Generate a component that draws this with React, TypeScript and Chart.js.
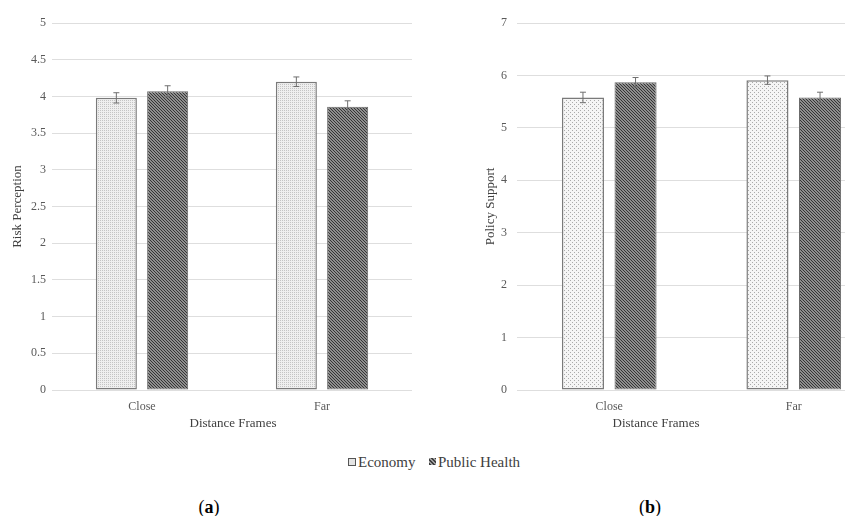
import React, { useEffect, useRef } from "react";
import { Chart, registerables } from "chart.js";

Chart.register(...registerables);

// ---- data ----
const categories = ["Close", "Far"];
const seriesNames = ["Economy", "Public Health"];

const riskEconomy = [3.98, 4.2];
const riskHealth = [4.07, 3.86];
const riskEconomyErr = [0.07, 0.065];
const riskHealthErr = [0.075, 0.08];

const policyEconomy = [5.58, 5.91];
const policyHealth = [5.87, 5.58];
const policyEconomyErr = [0.1, 0.08];
const policyHealthErr = [0.09, 0.1];

const xTitle = "Distance Frames";
const riskTitle = "Risk Perception";
const policyTitle = "Policy Support";
const captions = ["a", "b"];

const FONT = "'Liberation Serif', 'Times New Roman', serif";

function makePattern(kind: string): CanvasPattern | string {
  const c = document.createElement("canvas");
  const ctx = c.getContext("2d");
  if (!ctx) return "#ccc";
  if (kind === "denseDots") {
    c.width = 2; c.height = 2;
    ctx.fillStyle = "#efefef"; ctx.fillRect(0, 0, 2, 2);
    ctx.fillStyle = "#c4c4c4"; ctx.fillRect(0, 0, 1, 1);
  } else if (kind === "sparseDots") {
    c.width = 4; c.height = 4;
    ctx.fillStyle = "#f5f5f5"; ctx.fillRect(0, 0, 4, 4);
    ctx.fillStyle = "#aaaaaa";
    ctx.fillRect(0, 0, 1, 1);
    ctx.fillRect(2, 2, 1, 1);
  } else {
    c.width = 3; c.height = 3;
    ctx.fillStyle = "#8e8e8e"; ctx.fillRect(0, 0, 3, 3);
    ctx.fillStyle = "#353535";
    for (let i = 0; i < 3; i++) {
      ctx.fillRect(i, i, 1, 1);
    }
  }
  return ctx.createPattern(c, "repeat") || "#ccc";
}

const errorBarPlugin = {
  id: "errorBars",
  afterDatasetsDraw(chart: any) {
    const ctx = chart.ctx;
    const yScale = chart.scales.y;
    chart.data.datasets.forEach((ds: any, di: number) => {
      const meta = chart.getDatasetMeta(di);
      const errs: number[] = ds.errors || [];
      meta.data.forEach((bar: any, i: number) => {
        const v = ds.data[i];
        const e = errs[i];
        if (e == null) return;
        const yt = yScale.getPixelForValue(v + e);
        const yb = yScale.getPixelForValue(v - e);
        const x = bar.x;
        ctx.save();
        ctx.strokeStyle = "#6f6f6f";
        ctx.lineWidth = 1;
        ctx.beginPath();
        ctx.moveTo(x, yt); ctx.lineTo(x, yb);
        ctx.moveTo(x - 3, yt); ctx.lineTo(x + 3, yt);
        ctx.moveTo(x - 3, yb); ctx.lineTo(x + 3, yb);
        ctx.stroke();
        ctx.restore();
      });
    });
  },
};

type PanelProps = {
  left: number;
  width: number;
  econ: number[];
  health: number[];
  econErr: number[];
  healthErr: number[];
  max: number;
  step: number;
  title: string;
  yWidth: number;
  titlePad: number;
  tickPad: number;
  padRight: number;
  econPattern: string;
};

function Panel(p: PanelProps) {
  const ref = useRef<HTMLCanvasElement>(null);
  useEffect(() => {
    if (!ref.current) return;
    const chart = new Chart(ref.current, {
      type: "bar",
      data: {
        labels: categories,
        datasets: [
          {
            label: seriesNames[0],
            data: p.econ,
            errors: p.econErr,
            backgroundColor: makePattern(p.econPattern),
            borderColor: "#7a7a7a",
            borderWidth: 1.5,
            borderSkipped: false,
            categoryPercentage: 0.57,
            barPercentage: 0.8,
          } as any,
          {
            label: seriesNames[1],
            data: p.health,
            errors: p.healthErr,
            backgroundColor: makePattern("hatch"),
            borderColor: "#6a6a6a",
            borderWidth: 1,
            borderSkipped: false,
            categoryPercentage: 0.57,
            barPercentage: 0.8,
          } as any,
        ],
      },
      options: {
        responsive: false,
        maintainAspectRatio: false,
        animation: false,
        devicePixelRatio: 1,
        layout: { padding: { top: 23, left: 0, right: p.padRight, bottom: 0 } },
        plugins: { legend: { display: false }, tooltip: { enabled: false } },
        scales: {
          x: {
            grid: { display: false },
            border: { display: false },
            ticks: { color: "#595959", font: { family: FONT, size: 12 }, padding: 2 },
            afterFit: (s: any) => { s.height = 30; },
          },
          y: {
            min: 0,
            max: p.max,
            ticks: {
              stepSize: p.step,
              color: "#595959",
              font: { family: FONT, size: 12 },
              padding: p.tickPad,
              callback: (v: any) => String(Math.round(Number(v) * 10) / 10),
            },
            grid: { color: "#dedede", lineWidth: 1, drawTicks: false },
            border: { display: false },
            title: {
              display: true,
              text: p.title,
              color: "#404040",
              font: { family: FONT, size: 13 },
              padding: { top: p.titlePad, bottom: 0 },
            },
            afterFit: (s: any) => { s.width = p.yWidth; },
          },
        },
      } as any,
      plugins: [errorBarPlugin],
    });
    return () => chart.destroy();
  }, []);
  return (
    <canvas
      ref={ref}
      width={p.width}
      height={420}
      style={{ position: "absolute", left: p.left, top: 0, width: p.width, height: 420 }}
    />
  );
}

const textStyle = (x: number, y: number, size: number, color: string): React.CSSProperties => ({
  position: "absolute",
  left: x,
  top: y,
  transform: "translate(-50%, -50%)",
  fontFamily: FONT,
  fontSize: size,
  color,
  whiteSpace: "nowrap",
  lineHeight: 1,
});

export default function App() {
  return (
    <div
      style={{
        position: "fixed",
        left: 0,
        top: 0,
        width: 845,
        height: 516,
        overflow: "hidden",
        background: "#ffffff",
        fontFamily: FONT,
      }}
    >
      <Panel
        left={0}
        width={420}
        econ={riskEconomy}
        health={riskHealth}
        econErr={riskEconomyErr}
        healthErr={riskHealthErr}
        max={5}
        step={0.5}
        title={riskTitle}
        yWidth={52}
        titlePad={10}
        tickPad={6}
        padRight={8}
        econPattern="denseDots"
      />
      <Panel
        left={470}
        width={420}
        econ={policyEconomy}
        health={policyHealth}
        econErr={policyEconomyErr}
        healthErr={policyHealthErr}
        max={7}
        step={1}
        title={policyTitle}
        yWidth={47}
        titlePad={13}
        tickPad={10}
        padRight={4}
        econPattern="sparseDots"
      />
      <div style={textStyle(233, 422, 13, "#404040")}>{xTitle}</div>
      <div style={textStyle(656, 422, 13, "#404040")}>{xTitle}</div>

      <div
        style={{
          position: "absolute", left: 348, top: 458, width: 6, height: 6,
          border: "1px solid #555", background: "#e4e4e4",
        }}
      />
      <div style={{ ...textStyle(358, 462, 15, "#404040"), transform: "translate(0, -50%)" }}>{seriesNames[0]}</div>
      <div
        style={{
          position: "absolute", left: 429, top: 458, width: 7, height: 7,
          background: "repeating-linear-gradient(45deg, #3e3e3e 0 1.5px, #a0a0a0 1.5px 3px)",
        }}
      />
      <div style={{ ...textStyle(438, 462, 15, "#404040"), transform: "translate(0, -50%)" }}>{seriesNames[1]}</div>

      <div style={textStyle(209, 507, 18, "#000")}>(<b>{captions[0]}</b>)</div>
      <div style={textStyle(650, 507, 18, "#000")}>(<b>{captions[1]}</b>)</div>
    </div>
  );
}
